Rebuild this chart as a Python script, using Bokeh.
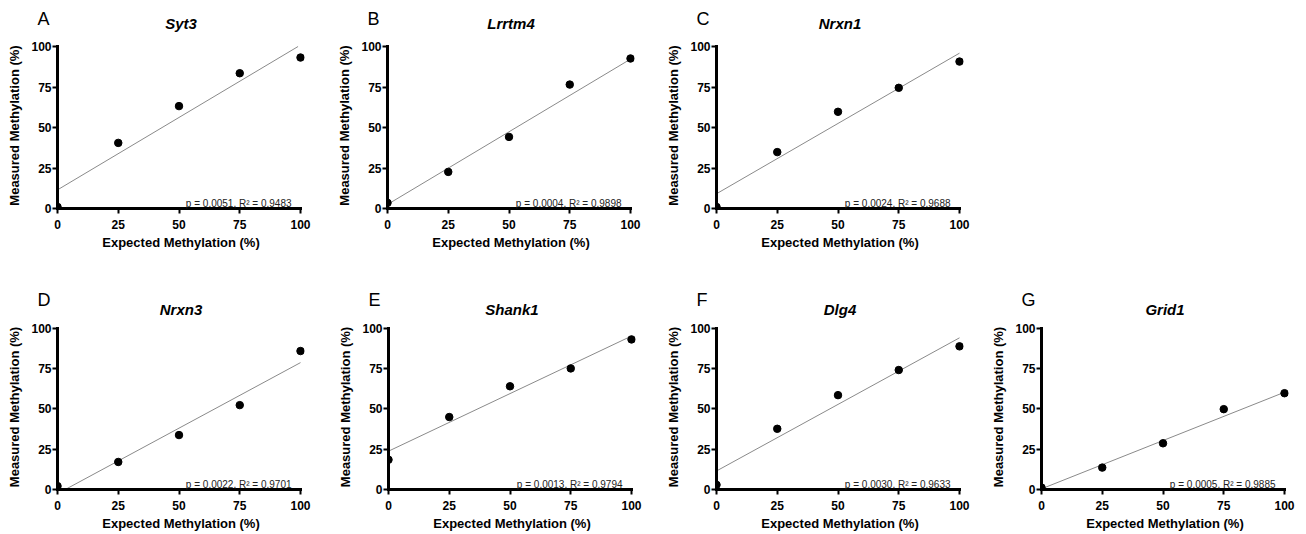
from bokeh.plotting import figure
from bokeh.models import Range1d, FixedTicker, Label, ColumnDataSource, Title
from bokeh.layouts import column, row
from bokeh.embed import file_html
from bokeh.resources import INLINE

# ---- data ----
letters = ["A", "B", "C", "D", "E", "F", "G"]
genes = ["Syt3", "Lrrtm4", "Nrxn1", "Nrxn3", "Shank1", "Dlg4", "Grid1"]
expected = [0, 25, 50, 75, 100]
syt3 = [1.0, 40.5, 63.2, 83.5, 93.2]
lrrtm4 = [3.5, 22.6, 44.2, 76.5, 92.6]
nrxn1 = [1.0, 34.8, 59.7, 74.5, 90.7]
nrxn3 = [2.1, 17.1, 33.8, 52.4, 86.0]
shank1 = [18.5, 45.0, 64.1, 75.2, 93.2]
dlg4 = [2.9, 37.7, 58.6, 74.2, 88.9]
grid1 = [1.2, 13.6, 28.7, 49.9, 59.8]
measured = [syt3, lrrtm4, nrxn1, nrxn3, shank1, dlg4, grid1]
p_values = ["0.0051", "0.0004", "0.0024", "0.0022", "0.0013", "0.0030", "0.0005"]
r_squared = ["0.9483", "0.9898", "0.9688", "0.9701", "0.9794", "0.9633", "0.9885"]
# regression line ends (x, y)
fit_x_start = [0, 0, 0, 3.2, 0, 0, 0]
fit_y_start = [11.5, 2.5, 9.1, 0.0, 23.8, 11.5, 0.4]
fit_x_end = [99, 100, 100, 100, 100, 100, 100]
fit_y_end = [100, 92.2, 95.9, 78.8, 95.3, 94.2, 60.4]
ticks = [0, 25, 50, 75, 100]

FONT = "Liberation Sans"
FW, FH = 243, 162          # px spanned by 0..100 on each axis
PAD = 4                    # extra px beyond 100 (top / right)
TOP = 42


def make_panel(i, width, height, left, gene_standoff, letter_standoff):
    p = figure(width=width, height=height,
               x_range=Range1d(0, 100 + 100 * PAD / FW),
               y_range=Range1d(0, 100 + 100 * PAD / FH),
               output_backend="svg", toolbar_location=None,
               min_border_left=left, min_border_right=width - left - FW - PAD,
               min_border_top=TOP, min_border_bottom=height - TOP - FH - PAD)
    p.outline_line_color = None
    p.background_fill_color = "white"
    p.border_fill_color = "white"
    p.xgrid.visible = False
    p.ygrid.visible = False

    for ax in (p.xaxis[0], p.yaxis[0]):
        ax.bounds = (0, 100)
        ax.ticker = FixedTicker(ticks=ticks)
        ax.axis_line_width = 3
        ax.axis_line_color = "black"
        ax.axis_line_cap = "square"
        ax.major_tick_line_width = 2
        ax.major_tick_line_color = "black"
        ax.major_tick_out = 5
        ax.major_tick_in = 0
        ax.minor_tick_line_color = None
        ax.major_label_text_font = FONT
        ax.major_label_text_font_style = "bold"
        ax.major_label_text_font_size = "12px"
        ax.major_label_text_color = "black"
        ax.axis_label_text_font = FONT
        ax.axis_label_text_font_style = "bold"
        ax.axis_label_text_font_size = "13px"
        ax.axis_label_text_color = "black"
    p.xaxis.axis_label = "Expected Methylation (%)"
    p.yaxis.axis_label = "Measured Methylation (%)"
    p.xaxis.major_label_standoff = 6
    p.xaxis.axis_label_standoff = 3
    p.yaxis.major_label_standoff = 1
    p.yaxis.axis_label_standoff = 6

    # panel letter (outer title) and gene name (inner title)
    p.title = Title(text=letters[i], align="left", offset=-20,
                    text_font=FONT, text_font_size="18px",
                    text_font_style="normal", text_color="black",
                    standoff=letter_standoff)
    p.add_layout(Title(text=genes[i], align="center", text_font=FONT,
                       text_font_size="15px", text_font_style="bold italic",
                       text_color="black", standoff=gene_standoff), "above")

    src = ColumnDataSource(dict(x=expected, y=measured[i]))
    p.line([fit_x_start[i], fit_x_end[i]], [fit_y_start[i], fit_y_end[i]],
           line_color="#8a8a8a", line_width=1)
    p.scatter("x", "y", source=src, size=7.5, color="black")

    p.add_layout(Label(x=96.3, y=3.0,
                       text="p = " + p_values[i] + ", R\u00b2 = " + r_squared[i],
                       text_font=FONT, text_font_size="10px",
                       text_baseline="alphabetic", text_align="right",
                       text_color="#222222"))
    return p


H1, H2 = 282, 251
row1 = row(make_panel(0, 330, H1, 57, 22, -55),
           make_panel(1, 329, H1, 57, 22, -55),
           make_panel(2, 331, H1, 57, 22, -55))
row2 = row(make_panel(3, 330, H2, 57, 14, -37),
           make_panel(4, 330, H2, 58, 14, -37),
           make_panel(5, 325, H2, 56, 14, -37),
           make_panel(6, 321, H2, 56, 14, -37))
layout = column(row1, row2)

open("out.html", "w").write(file_html(layout, INLINE))
